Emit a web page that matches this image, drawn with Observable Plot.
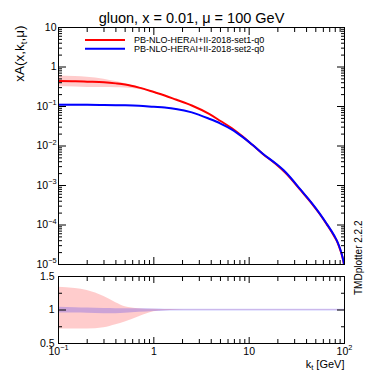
<!DOCTYPE html>
<html><head><meta charset="utf-8">
<script src="https://cdn.jsdelivr.net/npm/d3@7"></script>
<script src="https://cdn.jsdelivr.net/npm/@observablehq/plot@0.6"></script>
<style>
body{margin:0;background:#fff;}
#chart{position:relative;width:383px;height:373px;overflow:hidden;}
#chart svg{position:absolute;left:0;}
</style></head><body><div id="chart"></div>
<script>
// ---- data ----
const kt   = [0.1, 0.15, 0.2, 0.3, 0.4, 0.5, 0.7, 1.0, 1.3, 1.7, 2.5, 3.8, 5, 6.6, 8.5, 10.8, 14, 19, 24, 35, 45, 55, 65, 78, 85, 91, 95, 98, 100];
const set1 = [0.44, 0.435, 0.425, 0.41, 0.385, 0.36, 0.30, 0.232, 0.19, 0.150, 0.106, 0.065, 0.043, 0.028, 0.0175, 0.0107, 0.0062, 0.0035, 0.0021, 7.4e-4, 3.6e-4, 1.9e-4, 1.05e-4, 5.2e-5, 3.5e-5, 2.2e-5, 1.55e-5, 1.1e-5, 8e-6];
const set2 = [0.11, 0.11, 0.11, 0.109, 0.108, 0.107, 0.104, 0.098, 0.094, 0.087, 0.071, 0.049, 0.037, 0.026, 0.0170, 0.0108, 0.0063, 0.0036, 0.0022, 7.6e-4, 3.7e-4, 1.95e-4, 1.08e-4, 5.4e-5, 3.6e-5, 2.3e-5, 1.6e-5, 1.15e-5, 8.5e-6];
// relative uncertainty bands (ratio to central value)
const set1Up = [1.34, 1.32, 1.29, 1.20, 1.11, 1.05, 1.02, 1.01, 1.006, 1.005, 1.004, 1.004, 1.004, 1.004, 1.004, 1.004, 1.004, 1.004, 1.004, 1.004, 1.004, 1.004, 1.004, 1.004, 1.004, 1.004, 1.004, 1.004, 1.004];
const set1Lo = [0.715, 0.715, 0.715, 0.735, 0.78, 0.82, 0.90, 0.975, 0.99, 0.994, 0.996, 0.996, 0.996, 0.996, 0.996, 0.996, 0.996, 0.996, 0.996, 0.996, 0.996, 0.996, 0.996, 0.996, 0.996, 0.996, 0.996, 0.996, 0.996];
const set2Up = [1.04, 1.035, 1.03, 1.022, 1.02, 1.02, 1.018, 1.015, 1.013, 1.012, 1.012, 1.012, 1.012, 1.012, 1.012, 1.012, 1.012, 1.012, 1.012, 1.012, 1.012, 1.012, 1.012, 1.012, 1.012, 1.012, 1.012, 1.012, 1.012];
const set2Lo = [0.955, 0.955, 0.952, 0.945, 0.945, 0.95, 0.965, 0.978, 0.983, 0.985, 0.985, 0.985, 0.985, 0.985, 0.985, 0.985, 0.985, 0.985, 0.985, 0.985, 0.985, 0.985, 0.985, 0.985, 0.985, 0.985, 0.985, 0.985, 0.985];

const seriesNames  = ["PB-NLO-HERAI+II-2018-set1-q0", "PB-NLO-HERAI+II-2018-set2-q0"];
const seriesColors = ["#ff0000", "#0000ff"];
const titleText = "gluon, x = 0.01, μ = 100 GeV";
const yTitle = "xA(x,k_{t},μ)";
const xTitle = "k_{t} [GeV]";
const sideText = "TMDplotter 2.2.2";

const yMajor = [1e-5, 1e-4, 1e-3, 1e-2, 1e-1, 1, 10];
const yMajorLabels = ["10^{-5}", "10^{-4}", "10^{-3}", "10^{-2}", "10^{-1}", "1", "10"];
const xMajor = [0.1, 1, 10, 100];
const xMajorLabels = ["10^{-1}", "1", "10", "10^{2}"];
const rMajor = [0.5, 1, 1.5];
const rMajorLabels = ["0.5", "1", "1.5"];
const rMinor = [0.75, 1.25];

// ---- derived ----
const minorLog = (lo, hi) => { const out = []; for (let e = lo; e < hi; e++) for (let m = 2; m <= 9; m++) out.push(m * Math.pow(10, e)); return out; };
const yMinor = minorLog(-5, 1);
const xMinor = minorLog(-1, 2);
const rows = kt.map((k, i) => ({
  k, c1: set1[i], c2: set2[i],
  lo1: set1[i] * set1Lo[i], hi1: set1[i] * set1Up[i],
  lo2: set2[i] * set2Lo[i], hi2: set2[i] * set2Up[i],
  r1lo: set1Lo[i], r1hi: set1Up[i], r2lo: set2Lo[i], r2hi: set2Up[i]
}));
const lab = (vals, labels) => d => labels[vals.indexOf(d)];

const FONT = '"Liberation Sans", Arial, Helvetica, sans-serif';
const W = 383, mL = 58, mR = 39;

function richify(svg) {
  d3.select(svg).selectAll("text").each(function () {
    const t = this.textContent;
    if (!/[\^_]\{/.test(t)) return;
    const fs = parseFloat(getComputedStyle(this).fontSize) || 11;
    const parts = [];
    const re = /(\^|_)\{([^}]*)\}/g;
    let last = 0, m;
    while ((m = re.exec(t))) {
      if (m.index > last) parts.push({ s: t.slice(last, m.index), k: "n" });
      parts.push({ s: m[2], k: m[1] === "^" ? "sup" : "sub" });
      last = re.lastIndex;
    }
    if (last < t.length) parts.push({ s: t.slice(last), k: "n" });
    const el = d3.select(this);
    el.text(null);
    let shift = 0;
    for (const p of parts) {
      const target = p.k === "sup" ? -0.45 * fs : p.k === "sub" ? 0.25 * fs : 0;
      const ts = el.append("tspan").text(p.s.replace(/-/g, "\u2212"));
      if (target !== shift) ts.attr("dy", target - shift);
      if (p.k !== "n") ts.attr("font-size", 0.7 * fs);
      shift = target;
    }
  });
}

// ---- top panel ----
const topPlot = Plot.plot({
  width: W, height: 270,
  marginLeft: mL, marginRight: mR, marginTop: 27, marginBottom: 6,
  style: { fontFamily: FONT, fontSize: "10.5px", background: "transparent", color: "black", overflow: "visible" },
  x: { type: "log", domain: [0.1, 100] },
  y: { type: "log", domain: [1e-5, 10] },
  marks: [
    Plot.areaY(rows, { x: "k", y1: "lo1", y2: "hi1", fill: seriesColors[0], fillOpacity: 0.2, curve: "monotone-x", clip: true }),
    Plot.areaY(rows, { x: "k", y1: "lo2", y2: "hi2", fill: seriesColors[1], fillOpacity: 0.25, curve: "monotone-x", clip: true }),
    Plot.line(rows, { x: "k", y: "c1", stroke: seriesColors[0], strokeWidth: 2, curve: "monotone-x", clip: true }),
    Plot.line(rows, { x: "k", y: "c2", stroke: seriesColors[1], strokeWidth: 2, curve: "monotone-x", clip: true }),
    Plot.axisY(yMajor, { anchor: "left", tickSize: -8, tickPadding: 10, tickFormat: lab(yMajor, yMajorLabels), label: null }),
    Plot.axisY(yMinor, { anchor: "left", tickSize: -4, tickFormat: () => "", label: null }),
    Plot.axisY(yMajor, { anchor: "right", tickSize: -8, tickFormat: () => "", label: null }),
    Plot.axisY(yMinor, { anchor: "right", tickSize: -4, tickFormat: () => "", label: null }),
    Plot.axisX(xMajor, { anchor: "bottom", tickSize: -7, tickFormat: () => "", label: null }),
    Plot.axisX(xMinor, { anchor: "bottom", tickSize: -4, tickFormat: () => "", label: null }),
    Plot.axisX(xMajor, { anchor: "top", tickSize: -7, tickFormat: () => "", label: null }),
    Plot.axisX(xMinor, { anchor: "top", tickSize: -4, tickFormat: () => "", label: null }),
    Plot.frame({ stroke: "black", strokeWidth: 1 }),
    Plot.text([titleText], { frameAnchor: "top", dx: -10, dy: -15, fontSize: 14.5 }),
    Plot.text([yTitle], { frameAnchor: "top-left", rotate: -90, textAnchor: "end", dx: -44, dy: -2, fontSize: 13.5 }),
    Plot.text([sideText], { frameAnchor: "right", rotate: -90, dx: 14, dy: 74.5, fontSize: 10 })
  ]
});
topPlot.style.top = "0px";

// ---- ratio panel ----
const botPlot = Plot.plot({
  width: W, height: 109,
  marginLeft: mL, marginRight: mR, marginTop: 12, marginBottom: 30,
  style: { fontFamily: FONT, fontSize: "10.5px", background: "transparent", color: "black", overflow: "visible" },
  x: { type: "log", domain: [0.1, 100] },
  y: { domain: [0.5, 1.5] },
  marks: [
    Plot.areaY(rows, { x: "k", y1: "r1lo", y2: "r1hi", fill: seriesColors[0], fillOpacity: 0.2, curve: "monotone-x", clip: true }),
    Plot.areaY(rows, { x: "k", y1: "r2lo", y2: "r2hi", fill: seriesColors[1], fillOpacity: 0.2, curve: "monotone-x", clip: true }),
    Plot.axisY(rMajor, { anchor: "left", tickSize: -8, tickPadding: 12, tickFormat: lab(rMajor, rMajorLabels), label: null }),
    Plot.axisY(rMinor, { anchor: "left", tickSize: -4, tickFormat: () => "", label: null }),
    Plot.axisY(rMajor, { anchor: "right", tickSize: -8, tickFormat: () => "", label: null }),
    Plot.axisY(rMinor, { anchor: "right", tickSize: -4, tickFormat: () => "", label: null }),
    Plot.axisX(xMajor, { anchor: "bottom", tickSize: -6, tickPadding: 10, tickFormat: lab(xMajor, xMajorLabels), label: null }),
    Plot.axisX(xMinor, { anchor: "bottom", tickSize: -4, tickFormat: () => "", label: null }),
    Plot.axisX(xMajor, { anchor: "top", tickSize: -6, tickFormat: () => "", label: null }),
    Plot.axisX(xMinor, { anchor: "top", tickSize: -4, tickFormat: () => "", label: null }),
    Plot.frame({ stroke: "black", strokeWidth: 1 }),
    Plot.text([xTitle], { frameAnchor: "bottom-right", textAnchor: "end", dy: 24, fontSize: 11 })
  ]
});
botPlot.style.top = "264px";

const chart = document.getElementById("chart");
chart.appendChild(topPlot);
chart.appendChild(botPlot);
richify(topPlot);
richify(botPlot);

// legend
const lg = d3.select(topPlot).append("g")
  .attr("font-family", FONT).attr("font-size", 9).attr("text-anchor", "start");
seriesNames.forEach((name, i) => {
  const y = 40 + i * 8.7;
  lg.append("line").attr("x1", 85).attr("x2", 125).attr("y1", y).attr("y2", y)
    .attr("stroke", seriesColors[i]).attr("stroke-width", 2);
  lg.append("text").attr("x", 134).attr("y", y).attr("dy", "0.35em")
    .attr("text-anchor", "start").text(name);
});
</script></body></html>
